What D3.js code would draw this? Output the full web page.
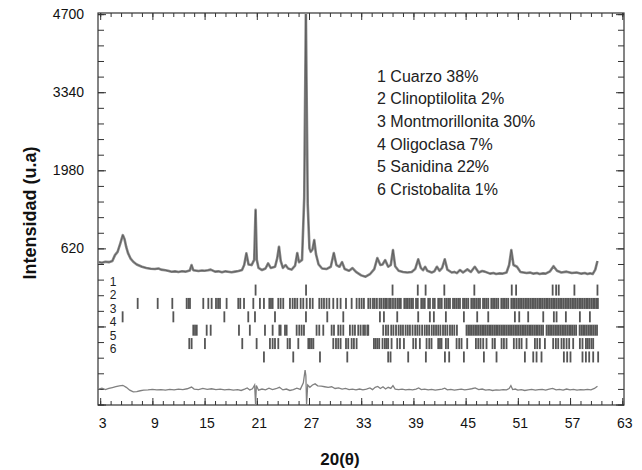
<!DOCTYPE html>
<html>
<head>
<meta charset="utf-8">
<script src="https://cdn.jsdelivr.net/npm/d3@7"></script>
<style>
  body { margin: 0; background: #fff; }
  text { font-family: "Liberation Sans", Arial, sans-serif; }
</style>
</head>
<body>
<div id="xrd-chart"></div>
<script>
// set the dimensions and margins of the graph
const width = 642,
    height = 470;
const margin = {top: 13, right: 18, bottom: 65, left: 98};

const obsAngle = [2.8, 3.2, 3.6, 4.0, 4.4, 4.7, 5.0, 5.3, 5.6, 5.8, 6.0, 6.2, 6.5, 6.8, 7.2, 7.8, 8.3, 8.8, 9.3, 9.7,
  10.0, 10.5, 10.9, 11.2, 11.6, 12.0, 12.4, 12.8, 13.3, 13.5, 13.7, 14.3, 14.7, 15.0, 15.4, 15.7, 16.2, 16.6, 17.0, 17.4,
  17.7, 18.1, 18.5, 18.9, 19.3, 19.55, 19.8, 20.05, 20.4, 20.7, 20.86, 21.0, 21.2, 21.6, 22.0, 22.3, 22.6, 23.1, 23.35, 23.55,
  23.75, 24.0, 24.3, 24.6, 25.0, 25.4, 25.65, 25.85, 26.2, 26.45, 26.64, 26.85, 27.05, 27.2, 27.4, 27.6, 27.8, 28.1, 28.5, 29.0,
  29.5, 29.85, 30.15, 30.5, 30.8, 31.1, 31.6, 32.0, 32.4, 33.0, 33.5, 34.0, 34.5, 34.85, 35.2, 35.45, 35.75, 36.1, 36.4, 36.65,
  36.9, 37.3, 37.8, 38.3, 38.8, 39.2, 39.55, 39.85, 40.1, 40.35, 40.6, 41.1, 41.4, 41.7, 42.0, 42.3, 42.6, 42.9, 43.4, 43.7,
  44.0, 44.35, 44.7, 45.2, 45.6, 46.05, 46.5, 46.9, 47.2, 47.8, 48.2, 48.5, 48.9, 49.2, 49.7, 50.0, 50.25, 50.5, 50.9, 51.3,
  52.0, 52.4, 52.8, 53.2, 53.5, 53.9, 54.2, 54.7, 55.1, 55.5, 56.0, 56.6, 57.2, 57.75, 58.3, 58.7, 59.0, 59.3, 59.6, 59.9,
  60.15];
const obsCounts = [381, 370, 387, 380, 400, 503, 560, 700, 851, 780, 640, 538, 440, 387, 340, 300, 280, 265, 260, 270,
  250, 240, 225, 213, 220, 210, 222, 215, 235, 329, 240, 225, 235, 230, 240, 250, 215, 220, 205, 220,
  213, 205, 215, 225, 243, 330, 533, 340, 329, 420, 1290, 420, 280, 243, 270, 359, 280, 300, 450, 648,
  400, 280, 330, 270, 250, 320, 538, 380, 420, 1500, 4700, 1400, 620, 560, 600, 764, 520, 340, 270, 260,
  300, 538, 330, 300, 381, 260, 230, 276, 210, 150, 126, 170, 260, 451, 330, 340, 416, 300, 330, 590,
  310, 230, 210, 200, 210, 260, 430, 280, 240, 300, 230, 200, 220, 300, 230, 280, 430, 250, 200, 210,
  190, 243, 200, 255, 210, 300, 200, 225, 215, 180, 190, 175, 185, 180, 200, 330, 590, 330, 300, 210,
  190, 198, 180, 190, 175, 185, 180, 220, 310, 230, 200, 215, 190, 200, 180, 190, 175, 185, 173, 250,
  400];

// difference curve (obs - calc)
const diffAngle = [2.8, 3.2, 3.6, 4.0, 4.4, 4.8, 5.2, 5.6, 6.0, 6.4, 6.8, 7.2, 7.6, 8.0, 8.5, 9.0, 9.5, 10.0, 10.5, 11.0,
  11.5, 12.0, 12.5, 13.0, 13.5, 13.8, 14.3, 14.8, 15.3, 15.8, 16.3, 16.8, 17.3, 17.8, 18.3, 18.8, 19.2, 19.6, 19.9, 20.2,
  20.5, 20.75, 20.86, 20.95, 21.2, 21.6, 22.0, 22.4, 22.8, 23.2, 23.6, 24.0, 24.4, 24.8, 25.2, 25.6, 26.0, 26.35, 26.55, 26.64,
  26.72, 26.85, 27.1, 27.4, 27.7, 28.0, 28.4, 28.8, 29.2, 29.6, 30.0, 30.4, 30.8, 31.2, 31.6, 32.0, 32.4, 32.8, 33.2, 33.6,
  34.0, 34.3, 34.6, 34.9, 35.2, 35.5, 35.8, 36.1, 36.4, 36.65, 36.9, 37.3, 37.7, 38.1, 38.5, 38.9, 39.3, 39.6, 39.9, 40.3,
  40.7, 41.1, 41.5, 41.9, 42.3, 42.6, 42.9, 43.3, 43.7, 44.1, 44.5, 44.9, 45.3, 45.7, 46.1, 46.5, 46.9, 47.3, 47.7, 48.1,
  48.5, 48.9, 49.3, 49.7, 50.0, 50.2, 50.4, 50.7, 51.0, 51.4, 51.8, 52.2, 52.6, 53.0, 53.4, 53.8, 54.2, 54.6, 55.0, 55.4,
  55.8, 56.2, 56.6, 57.0, 57.4, 57.8, 58.2, 58.6, 59.0, 59.4, 59.8, 60.15];
const diffCounts = [-1830, -1815, -1840, -1820, -1805, -1790, -1775, -1765, -1800, -1850, -1880, -1875, -1860, -1850, -1845, -1835, -1845, -1840, -1850, -1835,
  -1845, -1830, -1840, -1825, -1795, -1830, -1840, -1820, -1835, -1825, -1840, -1830, -1845, -1835, -1850, -1840, -1855, -1830, -1810, -1845,
  -1825, -1760, -2100, -1770, -1850, -1830, -1845, -1815, -1840, -1825, -1800, -1845, -1830, -1855, -1840, -1815, -1835, -1720, -1500, -1600,
  -2100, -1760, -1800, -1760, -1740, -1775, -1780, -1790, -1800, -1790, -1820, -1810, -1830, -1820, -1840, -1830, -1845, -1830, -1845, -1830,
  -1810, -1840, -1800, -1785, -1820, -1790, -1830, -1800, -1820, -1770, -1830, -1840, -1830, -1845, -1835, -1845, -1830, -1810, -1840, -1830,
  -1845, -1835, -1850, -1840, -1830, -1815, -1845, -1835, -1850, -1840, -1830, -1845, -1835, -1825, -1810, -1840, -1830, -1850, -1840, -1855,
  -1845, -1850, -1840, -1845, -1820, -1770, -1840, -1830, -1850, -1840, -1855, -1845, -1835, -1850, -1840, -1835, -1850, -1830, -1820, -1845,
  -1835, -1850, -1830, -1845, -1835, -1850, -1840, -1845, -1835, -1845, -1820, -1780];

// reflection positions for each phase
const quartzPos = [20.86, 26.66, 36.6, 39.5, 40.4, 42.55, 46.0, 50.3, 50.8, 55.0, 55.4, 55.7, 57.5, 60.15];
const clinoPos = [7.31, 9.61, 11.29, 12.94, 13.15, 13.32, 14.85, 15.43, 15.81, 16.31, 16.55, 16.77, 17.53, 18.87, 19.1, 19.53, 20.6, 21.36, 21.82, 22.44,
  22.63, 22.82, 23.47, 23.74, 24.04, 24.81, 25.12, 25.38, 25.65, 26.04, 26.34, 26.73, 27.11, 27.42, 28.18, 28.45, 28.72, 29.02, 29.33, 29.79,
  30.25, 30.63, 31.25, 31.9, 32.47, 32.78, 33.05, 33.31, 33.81, 34.05, 34.35, 34.55, 34.8, 35.1, 35.3, 35.55, 35.75, 35.95, 36.2, 36.4,
  36.65, 36.9, 37.15, 37.35, 37.55, 37.95, 38.15, 38.35, 38.55, 38.75, 38.95, 39.3, 39.5, 39.9, 40.1, 40.3, 40.7, 40.9, 41.25, 41.45,
  41.85, 42.05, 42.25, 42.6, 42.8, 43.0, 43.2, 43.55, 43.75, 43.95, 44.15, 44.35, 44.7, 44.9, 45.1, 45.3, 45.65, 45.85, 46.05, 46.25,
  46.45, 46.65, 47.0, 47.2, 47.4, 47.6, 47.95, 48.15, 48.35, 48.55, 48.75, 49.1, 49.3, 49.5, 49.7, 49.9, 50.25, 50.45, 50.65, 50.85,
  51.05, 51.25, 51.45, 51.65, 51.85, 52.05, 52.25, 52.45, 52.65, 52.85, 53.05, 53.25, 53.45, 53.65, 53.85, 54.05, 54.25, 54.45, 54.65, 54.85,
  55.05, 55.25, 55.45, 55.65, 55.85, 56.05, 56.25, 56.45, 56.65, 56.85, 57.05, 57.25, 57.45, 57.65, 57.85, 58.05, 58.25, 58.45, 58.65, 58.85,
  59.05, 59.25, 59.45, 59.65, 59.85, 60.05, 60.2];
const montPos = [5.58, 11.41, 17.27, 20.02, 20.79, 23.09, 26.65, 29.1, 30.94, 35.15, 35.61, 37.14, 39.55, 40.89, 41.35, 42.73, 44.8, 46.33, 47.6, 50.66,
  51.16, 52.19, 53.92, 55.14, 55.45, 56.52, 58.13, 59.28];
const oligoPos = [13.7, 13.9, 14.1, 15.24, 15.7, 18.95, 20.2, 21.94, 22.82, 23.59, 23.74, 24.24, 24.43, 25.58, 25.88, 26.15, 26.42, 27.87, 28.18, 28.64,
  29.6, 29.87, 30.36, 30.63, 30.94, 31.7, 32.01, 32.28, 32.66, 32.93, 33.23, 33.43, 33.7, 33.81, 35.53, 35.84, 36.1, 36.45, 36.7, 37.0,
  37.3, 37.55, 37.8, 38.1, 38.35, 38.6, 38.9, 39.2, 39.45, 39.7, 40.0, 40.3, 40.55, 40.8, 41.1, 41.35, 41.6, 41.85, 42.1, 42.4,
  42.65, 42.9, 43.2, 43.45, 43.7, 44.0, 45.1, 45.3, 45.5, 45.7, 45.9, 46.1, 46.3, 46.5, 46.7, 46.9, 47.1, 47.3, 47.5, 47.7,
  47.9, 48.1, 48.3, 48.5, 48.7, 48.9, 49.1, 49.3, 49.5, 49.7, 49.9, 50.1, 50.3, 50.5, 50.7, 50.9, 51.1, 51.3, 51.5, 51.7,
  51.9, 52.1, 52.3, 52.5, 52.7, 52.9, 53.1, 53.3, 53.5, 53.7, 53.9, 54.3, 54.5, 54.7, 54.9, 55.1, 55.3, 55.5, 55.7, 55.9,
  56.1, 56.3, 56.5, 56.7, 56.9, 57.1, 57.3, 57.5, 57.7, 58.1, 58.3, 58.5, 58.7, 58.9, 59.1, 59.3, 59.5, 59.7, 59.9, 60.1];
const saniPos = [13.24, 13.51, 15.04, 19.33, 20.98, 22.51, 22.82, 23.09, 23.47, 24.54, 24.81, 25.77, 26.92, 27.1, 27.3, 27.5, 29.79, 30.1, 30.36, 30.63,
  31.25, 31.51, 31.9, 32.16, 32.47, 34.46, 34.66, 34.86, 35.07, 35.45, 35.72, 35.92, 36.1, 36.49, 37.14, 37.45, 37.91, 38.98, 39.28, 39.74,
  40.51, 40.82, 41.08, 41.85, 42.05, 42.23, 42.73, 42.99, 43.96, 44.26, 44.53, 45.18, 46.18, 46.45, 46.71, 47.02, 47.4, 48.09, 48.36, 49.13,
  49.4, 49.7, 50.54, 50.85, 51.16, 51.43, 52.0, 52.96, 53.23, 53.53, 54.11, 55.06, 55.37, 55.64, 56.02, 56.29, 56.6, 56.9, 57.36, 58.13,
  58.43, 58.82, 59.0, 59.2, 59.45, 59.66];
const cristoPos = [21.82, 25.19, 28.26, 31.4, 36.1, 36.37, 38.4, 40.43, 42.62, 43.11, 44.8, 47.1, 48.55, 51.81, 52.77, 53.15, 53.72, 56.29, 56.67, 57.05,
  58.43, 58.82, 59.2, 59.66, 60.23];

const phaseRows = [quartzPos, clinoPos, montPos, oligoPos, saniPos, cristoPos];
const phaseNames = ["1 Cuarzo 38%", "2 Clinoptilolita 2%", "3 Montmorillonita 30%",
  "4 Oligoclasa 7%", "5 Sanidina 22%", "6 Cristobalita 1%"];

// axis ticks
const xTicks = [3, 9, 15, 21, 27, 33, 39, 45, 51, 57, 63];
const yLabelTicks = [620, 1980, 3340, 4700];
const yMajorTicks = [-2100, -740, 620, 1980, 3340, 4700];

const svg = d3.select("#xrd-chart")
  .append("svg")
    .attr("width", width)
    .attr("height", height);

const x = d3.scaleLinear()
    .domain([2.75, 63.2])
    .range([margin.left, width - margin.right]);
const y = d3.scaleLinear()
    .domain([-2108, 4720])
    .range([height - margin.bottom, margin.top]);

const plotW = width - margin.right - margin.left,
    plotH = height - margin.bottom - margin.top;

// frame
svg.append("rect")
  .attr("x", margin.left)
  .attr("y", margin.top)
  .attr("width", plotW)
  .attr("height", plotH)
  .attr("fill", "none")
  .attr("stroke", "#333")
  .attr("stroke-width", 1.2);

// minor ticks (inside the frame on all 4 sides)
const xMinor = d3.range(3, 63.01, 1.2);
const yMinor = d3.range(-2100, 4701, 272);

function tickAxis(axis, tx, ty) {
  const g = svg.append("g")
    .attr("transform", `translate(${tx},${ty})`)
    .call(axis);
  g.select(".domain").remove();
  g.selectAll("line").attr("stroke", "#333");
  return g;
}

tickAxis(d3.axisBottom(x).tickValues(xMinor).tickSize(-4).tickFormat(""), 0, height - margin.bottom);
tickAxis(d3.axisTop(x).tickValues(xMinor).tickSize(-4).tickFormat(""), 0, margin.top);
tickAxis(d3.axisLeft(y).tickValues(yMinor).tickSize(-6).tickFormat(""), margin.left, 0);
tickAxis(d3.axisRight(y).tickValues(yMinor).tickSize(-6).tickFormat(""), width - margin.right, 0);

// major ticks + labels
const xAxis = tickAxis(d3.axisBottom(x).tickValues(xTicks).tickSize(-7).tickPadding(13), 0, height - margin.bottom);
xAxis.selectAll("text").attr("font-size", 14).attr("fill", "#111").attr("dx", 2);
tickAxis(d3.axisTop(x).tickValues(xTicks).tickSize(-7).tickFormat(""), 0, margin.top);

const yAxis = tickAxis(d3.axisLeft(y).tickValues(yMajorTicks).tickSize(-8).tickPadding(14)
    .tickFormat(d => yLabelTicks.includes(d) ? d : ""), margin.left, 0);
yAxis.selectAll("text").attr("font-size", 14).attr("fill", "#111");
tickAxis(d3.axisRight(y).tickValues(yMajorTicks).tickSize(-8).tickFormat(""), width - margin.right, 0);

// observed pattern
const obs = obsAngle.map((a, i) => [a, obsCounts[i]]);
const diff = diffAngle.map((a, i) => [a, diffCounts[i]]);

const line = d3.line()
  .x(d => x(d[0]))
  .y(d => y(d[1]));

svg.append("path")
  .datum(obs)
  .attr("d", line)
  .attr("fill", "none")
  .attr("stroke", "#8a8a8a")
  .attr("stroke-width", 2.6)
  .attr("stroke-linejoin", "round");
svg.append("path")
  .datum(obs)
  .attr("d", line)
  .attr("fill", "none")
  .attr("stroke", "#555")
  .attr("stroke-width", 0.8);

svg.append("path")
  .datum(diff)
  .attr("d", line)
  .attr("fill", "none")
  .attr("stroke", "#808080")
  .attr("stroke-width", 1.3);

// reflection markers, one row per phase
const rowTop = -106, rowStep = 233;
phaseRows.forEach(function(pos, i) {
  const cy = y(rowTop - i * rowStep);
  svg.selectAll(".row" + i)
    .data(pos)
    .join("rect")
      .attr("x", d => x(d) - 0.9)
      .attr("y", cy - 5.5)
      .attr("width", 1.8)
      .attr("height", 11)
      .attr("fill", "#555");

  svg.append("text")
    .attr("x", 113)
    .attr("y", cy - 4)
    .attr("text-anchor", "middle")
    .attr("font-size", 12)
    .attr("fill", "#222")
    .text(i + 1);
});

// legend text
svg.selectAll(".legendLabels")
  .data(phaseNames)
  .join("text")
    .attr("x", 377)
    .attr("y", (d, i) => 81.5 + i * 22.7)
    .attr("font-size", 16)
    .attr("fill", "#222")
    .text(d => d);

// axis titles
svg.append("text")
  .attr("x", 340)
  .attr("y", 465)
  .attr("text-anchor", "middle")
  .attr("font-size", 17)
  .attr("font-weight", "bold")
  .attr("fill", "#111")
  .text("20(θ)");

svg.append("text")
  .attr("transform", "translate(36,213) rotate(-90)")
  .attr("text-anchor", "middle")
  .attr("font-size", 18)
  .attr("font-weight", "bold")
  .attr("fill", "#111")
  .text("Intensidad (u.a)");
</script>
</body>
</html>
